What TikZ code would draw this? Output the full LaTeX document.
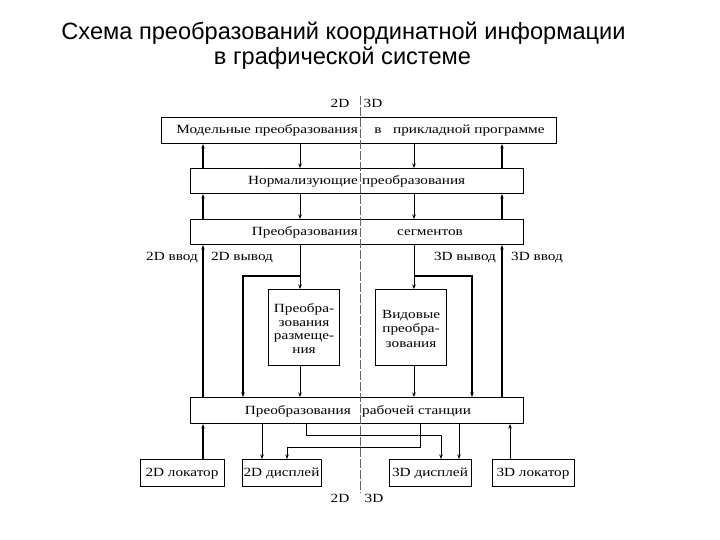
\documentclass[tikz,border=0pt]{standalone}
\usepackage{fontspec}
\setmainfont{Liberation Serif}
\newfontfamily\boxfont[FakeStretch=1.22]{Liberation Serif}
\newfontfamily\titlefont{Liberation Sans}
\usetikzlibrary{arrows.meta}
\begin{document}
\begin{tikzpicture}[x=1pt,y=-1pt,
  box/.style={draw, line width=1.1pt, inner sep=0pt, anchor=north west},
  txt/.style={inner sep=0pt, font=\boxfont\fontsize{12.5}{13.5}\selectfont},
  thin/.style={line width=0.8pt},
  med/.style={line width=1.5pt},
  thk/.style={line width=2.2pt},
  tip/.style={-{Stealth[length=4.5pt,width=3.5pt]}},
  centre/.style={line width=0.7pt, draw=black!60, dash pattern=on 9pt off 2pt}]
\useasboundingbox (0,0) rectangle (720,540);
% title
\node[anchor=base, inner sep=0pt, font=\titlefont\fontsize{23.6}{28}\selectfont] (title1) at (343.5,40) {Схема преобразований координатной информации};
\node[anchor=base, inner sep=0pt, font=\titlefont\fontsize{23.6}{28}\selectfont] (title2) at (342.5,65) {в графической системе};
% coordinates
\coordinate (xA) at (203,0);
\coordinate (xB) at (300,0);
\coordinate (xC) at (414,0);
\coordinate (xD) at (502,0);
\coordinate (xL) at (243,0);
\coordinate (xR) at (472,0);
\coordinate (xE) at (262,0);
\coordinate (xF) at (306,0);
\coordinate (xG) at (420,0);
\coordinate (xH) at (459,0);
\coordinate (xI) at (510,0);
\coordinate (xJ) at (287,0);
\coordinate (xK) at (441,0);
\coordinate (yM) at (0,276);
\coordinate (yP) at (0,435);
\coordinate (yQ) at (0,447);
% boxes
\node[box, minimum width=395pt, minimum height=26pt] (b1) at (161,117) {};
\node[box, minimum width=333pt, minimum height=25pt] (b2) at (190,168) {};
\node[box, minimum width=333pt, minimum height=25pt] (b3) at (190,219) {};
\node[box, minimum width=333pt, minimum height=26pt] (b4) at (190,397) {};
\node[box, minimum width=71pt, minimum height=76pt] (inL) at (268,289) {};
\node[box, minimum width=71pt, minimum height=76pt] (inR) at (375,289) {};
\node[box, minimum width=84pt, minimum height=27pt] (loc2) at (140,459) {};
\node[box, minimum width=79pt, minimum height=27pt] (disp2) at (242,459) {};
\node[box, minimum width=82pt, minimum height=27pt] (disp3) at (389,459) {};
\node[box, minimum width=82pt, minimum height=27pt] (loc3) at (492,459) {};
% box texts
\node[txt, anchor=base east] (t1a) at (358,134) {Модельные преобразования};
\node[txt, anchor=base] (t1b) at (378,134) {в};
\node[txt, anchor=base west] (t1c) at (393,134) {прикладной программе};
\node[txt, anchor=base east] (t2a) at (358,185) {Нормализующие};
\node[txt, anchor=base west] (t2b) at (362,185) {преобразования};
\node[txt, anchor=base east] (t3a) at (358,235.5) {Преобразования};
\node[txt, anchor=base] (t3b) at (430,235.5) {сегментов};
\node[txt, anchor=base east] (t4a) at (351,414) {Преобразования};
\node[txt, anchor=base west] (t4b) at (362,414) {рабочей станции};
\node[txt, align=center] (tL) at ([yshift=-1pt]inL.center) {Преобра-\\зования\\размеще-\\ния};
\node[txt, align=center, font=\boxfont\fontsize{12.5}{14.5}\selectfont] (tR) at ([yshift=-1pt]inR.center) {Видовые\\преобра-\\зования};
\node[txt, anchor=base] (tloc2) at (182,476) {2D локатор};
\node[txt, anchor=base] (tdisp2) at (281.5,476) {2D дисплей};
\node[txt, anchor=base] (tdisp3) at (430,476) {3D дисплей};
\node[txt, anchor=base] (tloc3) at (533,476) {3D локатор};
% labels
\node[txt, anchor=base] (top2) at (340,108) {2D};
\node[txt, anchor=base] (top3) at (373,108) {3D};
\node[txt, anchor=base] (bot2) at (340,502) {2D};
\node[txt, anchor=base] (bot3) at (374,502) {3D};
\node[txt, anchor=base] (l1) at (172,260) {2D ввод};
\node[txt, anchor=base] (l2) at (242,260) {2D вывод};
\node[txt, anchor=base] (l3) at (465,260) {3D вывод};
\node[txt, anchor=base] (l4) at (537,260) {3D ввод};
% connectors b1-b2
\draw[thk,tip] (b2.north -| xA) -- (b1.south -| xA);
\draw[thin,tip] (b1.south -| xB) -- (b2.north -| xB);
\draw[thin,tip] (b1.south -| xC) -- (b2.north -| xC);
\draw[thk,tip] (b2.north -| xD) -- (b1.south -| xD);
% b2-b3
\draw[thk,tip] (b3.north -| xA) -- (b2.south -| xA);
\draw[thin,tip] (b2.south -| xB) -- (b3.north -| xB);
\draw[thin,tip] (b2.south -| xC) -- (b3.north -| xC);
\draw[thk,tip] (b3.north -| xD) -- (b2.south -| xD);
% b3-b4
\draw[thk,tip] (b4.north -| xA) -- (b3.south -| xA);
\draw[thk,tip] (b4.north -| xD) -- (b3.south -| xD);
\draw[thin,tip] (b3.south -| xB) -- (inL.north -| xB);
\draw[thin,tip] (b3.south -| xC) -- (inR.north -| xC);
\draw[med,tip] (yM -| xB) -- (yM -| xL) -- (b4.north -| xL);
\draw[med,tip] (yM -| xC) -- (yM -| xR) -- (b4.north -| xR);
\draw[thin,tip] (inL.south -| xB) -- (b4.north -| xB);
\draw[thin,tip] (inR.south -| xC) -- (b4.north -| xC);
% b4 - bottom
\draw[thk,tip] (loc2.north -| xA) -- (b4.south -| xA);
\draw[thin,tip] (b4.south -| xE) -- (disp2.north -| xE);
\draw[thin,tip] (b4.south -| xF) -- (yP -| xF) -- (yP -| xK) -- (disp3.north -| xK);
\draw[thin,tip] (b4.south -| xG) -- (yQ -| xG) -- (yQ -| xJ) -- (disp2.north -| xJ);
\draw[thin,tip] (b4.south -| xH) -- (disp3.north -| xH);
\draw[thin,tip] (loc3.north -| xI) -- (b4.south -| xI);
% centre line
\draw[centre] (360,96) -- (360,493);
\end{tikzpicture}
\end{document}
